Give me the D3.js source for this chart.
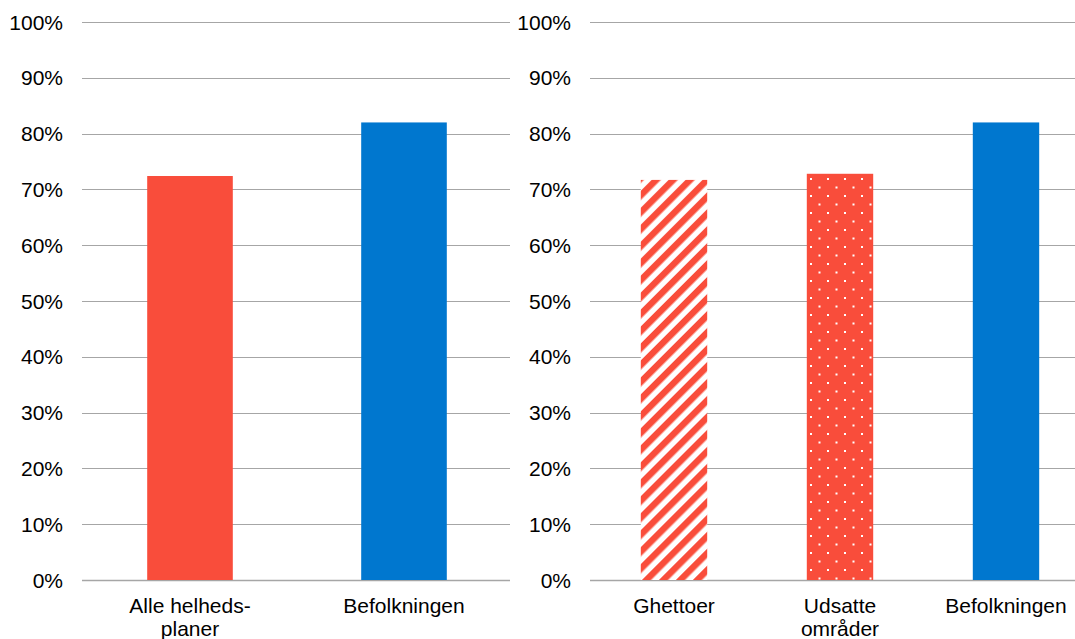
<!DOCTYPE html>
<html>
<head>
<meta charset="utf-8">
<script src="https://cdn.jsdelivr.net/npm/d3@7/dist/d3.min.js"></script>
<style>
  body { margin: 0; background: #fff; }
  svg { display: block; font-family: 'Liberation Sans', Arial, sans-serif; }
</style>
</head>
<body>
<svg width="1075" height="639"></svg>
<script>
'use strict';
// data
const leftCategories = [['Alle helheds-', 'planer'], ['Befolkningen']];
const leftValues = [0.724, 0.82];
const leftFills = ['solid-red', 'solid-blue'];

const rightCategories = [['Ghettoer'], ['Udsatte', 'områder'], ['Befolkningen']];
const rightValues = [0.717, 0.728, 0.82];
const rightFills = ['stripes', 'dots', 'solid-blue'];

const yTicks = [0, 0.1, 0.2, 0.3, 0.4, 0.5, 0.6, 0.7, 0.8, 0.9, 1.0];

const RED = '#f94d3b';
const BLUE = '#0077cf';

const svg = d3.select('svg');
const defs = svg.append('defs');

// diagonal stripes
const stripes = defs.append('pattern')
  .attr('id', 'stripes')
  .attr('patternUnits', 'userSpaceOnUse')
  .attr('width', 12).attr('height', 12)
  .attr('patternTransform', 'rotate(45)');
stripes.append('rect').attr('width', 12).attr('height', 12).attr('fill', '#fff');
stripes.append('rect').attr('width', 6.5).attr('height', 12).attr('fill', RED);

// dots
const dots = defs.append('pattern')
  .attr('id', 'dots')
  .attr('patternUnits', 'userSpaceOnUse')
  .attr('x', 806).attr('y', 4)
  .attr('width', 17).attr('height', 17);
dots.append('rect').attr('width', 17).attr('height', 17).attr('fill', RED);
dots.append('rect').attr('x', 4).attr('y', 4).attr('width', 2).attr('height', 2).attr('fill', '#fff');
dots.append('rect').attr('x', 12.5).attr('y', 12.5).attr('width', 2).attr('height', 2).attr('fill', '#fff');

const fillOf = k => ({ 'solid-red': RED, 'solid-blue': BLUE, stripes: 'url(#stripes)', dots: 'url(#dots)' })[k];

const y = d3.scaleLinear().domain([0, 1]).range([580, 22]);

function panel(x0, x1, labelX, cats, vals, fills) {
  const g = svg.append('g');
  const x = d3.scaleBand()
    .domain(cats.map((d, i) => i))
    .range([x0, x1])
    .paddingInner(0.6)
    .paddingOuter(0.3);

  g.selectAll('line.grid').data(yTicks).enter().append('line')
    .attr('class', 'grid')
    .attr('x1', x0).attr('x2', x1)
    .attr('y1', d => Math.round(y(d)) + 0.5)
    .attr('y2', d => Math.round(y(d)) + 0.5)
    .attr('stroke', '#a6a6a6')
    .attr('stroke-width', d => d === 0 ? 1.5 : 1);

  g.selectAll('text.tick').data(yTicks).enter().append('text')
    .attr('class', 'tick')
    .attr('x', labelX)
    .attr('y', d => y(d) + 7.5)
    .attr('text-anchor', 'end')
    .attr('font-size', 21)
    .attr('fill', '#000')
    .text(d => d3.format('.0%')(d));

  g.selectAll('rect.bar').data(vals).enter().append('rect')
    .attr('class', 'bar')
    .attr('x', (d, i) => x(i) + 1)
    .attr('width', x.bandwidth())
    .attr('y', d => y(d))
    .attr('height', d => y(0) - y(d))
    .attr('fill', (d, i) => fillOf(fills[i]));

  const lbl = g.selectAll('text.cat').data(cats).enter().append('text')
    .attr('class', 'cat')
    .attr('text-anchor', 'middle')
    .attr('font-size', 21)
    .attr('fill', '#000');
  lbl.selectAll('tspan').data((d, i) => d.map(t => ({ t, i }))).enter().append('tspan')
    .attr('x', d => x(d.i) + x.bandwidth() / 2 + 1)
    .attr('y', (d, j) => 613 + j * 23)
    .text(d => d.t);
}

panel(82, 510, 63, leftCategories, leftValues, leftFills);
panel(590, 1088, 571, rightCategories, rightValues, rightFills);
</script>
</body>
</html>
